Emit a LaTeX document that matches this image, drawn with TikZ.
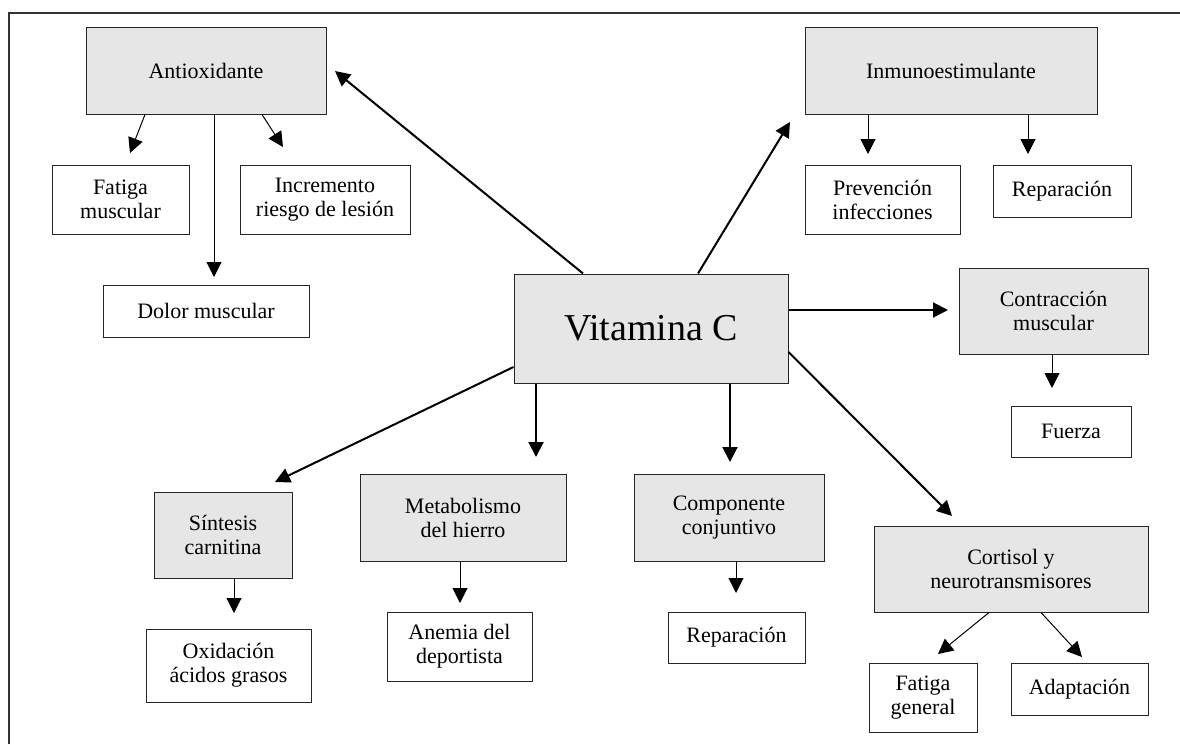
\documentclass[tikz,border=0pt]{standalone}
\usepackage{fontspec}
\setmainfont{Liberation Serif}
\usepackage{xcolor}
\usetikzlibrary{arrows.meta}

\definecolor{boxgray}{RGB}{230,230,230}

\tikzset{
	main/.style={draw=black!85, fill=boxgray, line width=1pt, align=center, inner sep=2pt,
		font=\fontsize{22}{24}\selectfont},
	leaf/.style={draw=black!85, fill=white, line width=1pt, align=center, inner sep=2pt,
		font=\fontsize{22}{24}\selectfont},
	bigarrow/.style={line width=2pt, -{Triangle[length=15pt, width=15pt]}},
	smallarrow/.style={line width=1pt, -{Triangle[length=15pt, width=15pt]}}
}

\begin{document}
\begin{tikzpicture}[x=1pt, y=-1pt]
	\useasboundingbox (0,0) rectangle (1180,744);
	\draw[line width=1.5pt, black!80] (9,744) -- (9,13) -- (1180,13);

	% Centre
	\node[main, minimum width=274pt, minimum height=109pt, font=\fontsize{38}{40}\selectfont] (vitc) at (651,328.5) {Vitamina C};

	% Upper left
	\node[main, minimum width=240pt, minimum height=87pt] (anti) at (206,70.5) {Antioxidante};
	\node[leaf, minimum width=137pt, minimum height=69pt] (fatm) at (120.5,199.5) {Fatiga\\muscular};
	\node[leaf, minimum width=170pt, minimum height=69pt] (incr) at (325,199.5) {Incremento\\riesgo de lesión};
	\node[leaf, minimum width=206pt, minimum height=52pt] (dolor) at (206,311) {Dolor muscular};

	% Upper right
	\node[main, minimum width=292pt, minimum height=87pt] (inmuno) at (951,70.5) {Inmunoestimulante};
	\node[leaf, minimum width=155pt, minimum height=69pt] (prev) at (882.5,199.5) {Prevención\\infecciones};
	\node[leaf, minimum width=138pt, minimum height=52pt] (repa1) at (1062,191) {Reparación};

	% Right
	\node[main, minimum width=189pt, minimum height=86pt] (contr) at (1053.5,311) {Contracción\\muscular};
	\node[leaf, minimum width=120pt, minimum height=51pt] (fuerza) at (1071,431.5) {Fuerza};
	\node[main, minimum width=274pt, minimum height=86pt] (cort) at (1011,569) {Cortisol y\\neurotransmisores};
	\node[leaf, minimum width=108pt, minimum height=69pt] (fatg) at (923,697.5) {Fatiga\\general};
	\node[leaf, minimum width=137pt, minimum height=52pt] (adapt) at (1079.5,689) {Adaptación};

	% Bottom
	\node[main, minimum width=138pt, minimum height=86pt] (sint) at (223,535) {Síntesis\\carnitina};
	\node[leaf, minimum width=165pt, minimum height=73pt] (oxid) at (228.5,665.5) {Oxidación\\ácidos grasos};
	\node[main, minimum width=206pt, minimum height=87pt] (metab) at (463,517.5) {Metabolismo\\del hierro};
	\node[leaf, minimum width=145pt, minimum height=69pt] (anem) at (459.5,646.5) {Anemia del\\deportista};
	\node[main, minimum width=190pt, minimum height=87pt] (comp) at (729,517.5) {Componente\\conjuntivo};
	\node[leaf, minimum width=137pt, minimum height=51pt] (repa2) at (736.5,637.5) {Reparación};

	% Arrow tips
	\coordinate (t-anti) at (335,71);
	\coordinate (t-inmuno) at (790,122);
	\coordinate (t-contr) at (948,310);
	\coordinate (t-cort) at (952,516);
	\coordinate (t-sint) at (275,482);
	\coordinate (t-metab) at (536,457);
	\coordinate (t-comp) at (730,462);
	\coordinate (t-fatm) at (130,153);
	\coordinate (t-dolor) at (214,277);
	\coordinate (t-incr) at (283,147);
	\coordinate (t-prev) at (868,154);
	\coordinate (t-repa1) at (1028,154);
	\coordinate (t-fuerza) at (1052,388);
	\coordinate (t-fatg) at (938,654);
	\coordinate (t-adapt) at (1082,657);
	\coordinate (t-oxid) at (234,613);
	\coordinate (t-anem) at (460,603);
	\coordinate (t-repa2) at (736,593);

	% Draw the arrows from the centre
	\draw[bigarrow] ([xshift=-68pt]vitc.north) -- (t-anti);
	\draw[bigarrow] ([xshift=47pt]vitc.north) -- (t-inmuno);
	\draw[bigarrow] ([yshift=18.5pt]vitc.east) -- (t-contr);
	\draw[bigarrow] ([yshift=-23.5pt]vitc.east) -- (t-cort);
	\draw[bigarrow] ([yshift=-38.5pt]vitc.west) -- (t-sint);
	\draw[bigarrow] ([xshift=-115pt]vitc.south) -- (t-metab);
	\draw[bigarrow] ([xshift=79pt]vitc.south) -- (t-comp);

	% Draw the arrows to the effects
	\draw[smallarrow] ([xshift=-61pt]anti.south) -- (t-fatm);
	\draw[smallarrow] ([xshift=8pt]anti.south) -- (t-dolor);
	\draw[smallarrow] ([xshift=56pt]anti.south) -- (t-incr);
	\draw[smallarrow] ([xshift=-83pt]inmuno.south) -- (t-prev);
	\draw[smallarrow] ([xshift=77pt]inmuno.south) -- (t-repa1);
	\draw[smallarrow] ([xshift=-1.5pt]contr.south) -- (t-fuerza);
	\draw[smallarrow] ([xshift=-22pt]cort.south) -- (t-fatg);
	\draw[smallarrow] ([xshift=30pt]cort.south) -- (t-adapt);
	\draw[smallarrow] ([xshift=11pt]sint.south) -- (t-oxid);
	\draw[smallarrow] ([xshift=-3pt]metab.south) -- (t-anem);
	\draw[smallarrow] ([xshift=7pt]comp.south) -- (t-repa2);
\end{tikzpicture}
\end{document}
